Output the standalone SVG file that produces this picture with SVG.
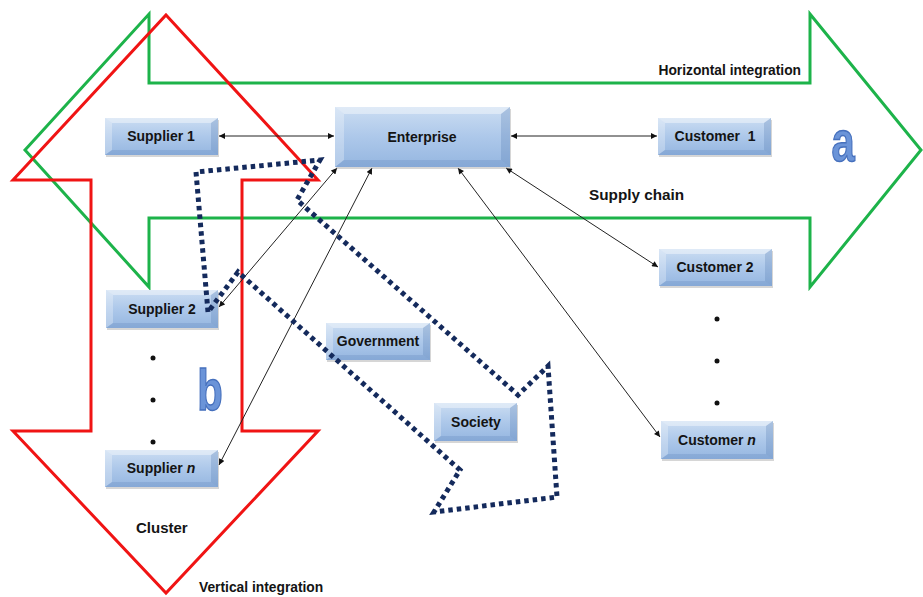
<svg xmlns="http://www.w3.org/2000/svg" width="923" height="597" viewBox="0 0 923 597">
<defs>
<linearGradient id="face" x1="0" y1="0" x2="0" y2="1">
<stop offset="0" stop-color="#cbddf2"/>
<stop offset="0.5" stop-color="#adc8ea"/>
<stop offset="1" stop-color="#95b6e0"/>
</linearGradient>
<marker id="ah" viewBox="0 0 10 10" refX="10" refY="5" markerWidth="7" markerHeight="6" markerUnits="userSpaceOnUse" orient="auto-start-reverse">
<path d="M0,0 L10,5 L0,10 z" fill="#111"/>
</marker>
</defs>
<style>
.green{fill:none;stroke:#1db34a;stroke-width:3}
.red{fill:none;stroke:#f01414;stroke-width:3}
.dots{fill:none;stroke:#142a5c;stroke-width:5;stroke-dasharray:4.5 4;stroke-linejoin:miter}
.sh{fill:#8a8a8a;opacity:0.35}
.face{fill:url(#face)}
.bl{fill:#ffffff;opacity:0.28}
.bt{fill:#ffffff;opacity:0.4}
.br{fill:#4d74ad;opacity:0.25}
.bb{fill:#4d74ad;opacity:0.2}
.lbl{font-family:"Liberation Sans",Arial,sans-serif;font-weight:bold;font-size:14px;fill:#141414;text-anchor:middle}
.cap{font-family:"Liberation Sans",Arial,sans-serif;font-weight:bold;fill:#141414}
.conn line{stroke:#222;stroke-width:1;marker-start:url(#ah);marker-end:url(#ah)}
.big{font-family:"Liberation Sans",Arial,sans-serif;font-weight:bold;font-size:58px;fill:#6b94d8;stroke:#4670bd;stroke-width:1.5;text-anchor:middle}
.dot{fill:#111}
</style>
<rect width="923" height="597" fill="#ffffff"/>

<g id="horizontal-arrow">
<polygon class="green" points="25,150 149,14 149,83 810,83 810,14 921,150 810,287 810,218 149,218 149,287"/>
</g>
<g id="vertical-arrow">
<polygon class="red" points="166,15 318,180 242,180 242,431 318,431 166,593 13,431 91,431 91,180 13,180"/>
</g>

<g id="connectors" class="conn">
<line x1="219" y1="136" x2="334" y2="136"/>
<line x1="511" y1="136" x2="657" y2="136"/>
<line x1="337" y1="168" x2="219" y2="307"/>
<line x1="372" y1="168" x2="219" y2="465"/>
<line x1="506" y1="168" x2="658" y2="267"/>
<line x1="458" y1="168" x2="660" y2="437"/>
</g>

<g id="supplier1">
<rect class="sh" x="106" y="120" width="113" height="37"/>
<rect class="face" x="105" y="118" width="113" height="37"/>
<polygon class="bt" points="105,118 218,118 211,123 112,123"/>
<polygon class="bl" points="105,118 112,123 112,150 105,155"/>
<polygon class="br" points="218,118 211,123 211,150 218,155"/>
<polygon class="bb" points="105,155 112,150 211,150 218,155"/>
<text class="lbl" x="161" y="141">Supplier 1</text>
</g>

<g id="enterprise">
<rect class="sh" x="336" y="109" width="175" height="60"/>
<rect class="face" x="335" y="107" width="175" height="60"/>
<polygon class="bt" points="335,107 510,107 501,114 344,114"/>
<polygon class="bl" points="335,107 344,114 344,160 335,167"/>
<polygon class="br" points="510,107 501,114 501,160 510,167"/>
<polygon class="bb" points="335,167 344,160 501,160 510,167"/>
<text class="lbl" x="422" y="142">Enterprise</text>
</g>

<g id="customer1">
<rect class="sh" x="659" y="120" width="113" height="37"/>
<rect class="face" x="658" y="118" width="113" height="37"/>
<polygon class="bt" points="658,118 771,118 764,123 665,123"/>
<polygon class="bl" points="658,118 665,123 665,150 658,155"/>
<polygon class="br" points="771,118 764,123 764,150 771,155"/>
<polygon class="bb" points="658,155 665,150 764,150 771,155"/>
<text class="lbl" x="715" y="141" xml:space="preserve">Customer  1</text>
</g>

<g id="customer2">
<rect class="sh" x="660" y="251" width="113" height="37"/>
<rect class="face" x="659" y="249" width="113" height="37"/>
<polygon class="bt" points="659,249 772,249 765,254 666,254"/>
<polygon class="bl" points="659,249 666,254 666,281 659,286"/>
<polygon class="br" points="772,249 765,254 765,281 772,286"/>
<polygon class="bb" points="659,286 666,281 765,281 772,286"/>
<text class="lbl" x="715" y="272">Customer 2</text>
</g>

<g id="customern">
<rect class="sh" x="662" y="423" width="112" height="38"/>
<rect class="face" x="661" y="421" width="112" height="38"/>
<polygon class="bt" points="661,421 773,421 766,426 668,426"/>
<polygon class="bl" points="661,421 668,426 668,454 661,459"/>
<polygon class="br" points="773,421 766,426 766,454 773,459"/>
<polygon class="bb" points="661,459 668,454 766,454 773,459"/>
<text class="lbl" x="717" y="445">Customer <tspan font-style="italic">n</tspan></text>
</g>

<g id="supplier2">
<rect class="sh" x="107" y="292" width="112" height="38"/>
<rect class="face" x="106" y="290" width="112" height="38"/>
<polygon class="bt" points="106,290 218,290 211,295 113,295"/>
<polygon class="bl" points="106,290 113,295 113,323 106,328"/>
<polygon class="br" points="218,290 211,295 211,323 218,328"/>
<polygon class="bb" points="106,328 113,323 211,323 218,328"/>
<text class="lbl" x="162" y="314">Supplier 2</text>
</g>

<g id="suppliern">
<rect class="sh" x="106" y="452" width="113" height="37"/>
<rect class="face" x="105" y="450" width="113" height="37"/>
<polygon class="bt" points="105,450 218,450 211,455 112,455"/>
<polygon class="bl" points="105,450 112,455 112,482 105,487"/>
<polygon class="br" points="218,450 211,455 211,482 218,487"/>
<polygon class="bb" points="105,487 112,482 211,482 218,487"/>
<text class="lbl" x="161" y="473">Supplier <tspan font-style="italic">n</tspan></text>
</g>

<g id="government">
<rect class="sh" x="327" y="325" width="104" height="37"/>
<rect class="face" x="326" y="323" width="104" height="37"/>
<polygon class="bt" points="326,323 430,323 423,328 333,328"/>
<polygon class="bl" points="326,323 333,328 333,355 326,360"/>
<polygon class="br" points="430,323 423,328 423,355 430,360"/>
<polygon class="bb" points="326,360 333,355 423,355 430,360"/>
<text class="lbl" x="378" y="346">Government</text>
</g>

<g id="society">
<rect class="sh" x="435" y="405" width="83" height="38"/>
<rect class="face" x="434" y="403" width="83" height="38"/>
<polygon class="bt" points="434,403 517,403 510,408 441,408"/>
<polygon class="bl" points="434,403 441,408 441,436 434,441"/>
<polygon class="br" points="517,403 510,408 510,436 517,441"/>
<polygon class="bb" points="434,441 441,436 510,436 517,441"/>
<text class="lbl" x="476" y="427">Society</text>
</g>

<g id="influence-arrow">
<polygon class="dots" points="208,312 196,172 320,160 297,200 518,395 548,366 557,497 434,512 460,470 238,272"/>
</g>

<g id="ellipsis-suppliers">
<circle class="dot" cx="153" cy="358" r="2.5"/>
<circle class="dot" cx="153" cy="400" r="2.5"/>
<circle class="dot" cx="153" cy="442" r="2.5"/>
</g>
<g id="ellipsis-customers">
<circle class="dot" cx="717" cy="319" r="2.5"/>
<circle class="dot" cx="717" cy="361" r="2.5"/>
<circle class="dot" cx="717" cy="403" r="2.5"/>
</g>

<g id="labels">
<text class="cap" x="801" y="75" font-size="13.8" text-anchor="end">Horizontal integration</text>
<text class="cap" x="589" y="200" font-size="15.3">Supply chain</text>
<text class="cap" x="136" y="533" font-size="15">Cluster</text>
<text class="cap" x="199" y="592" font-size="13.8">Vertical integration</text>
<text class="big" transform="translate(843,161) scale(0.72,1)">a</text>
<text class="big" transform="translate(210,410) scale(0.72,1)">b</text>
</g>
</svg>
